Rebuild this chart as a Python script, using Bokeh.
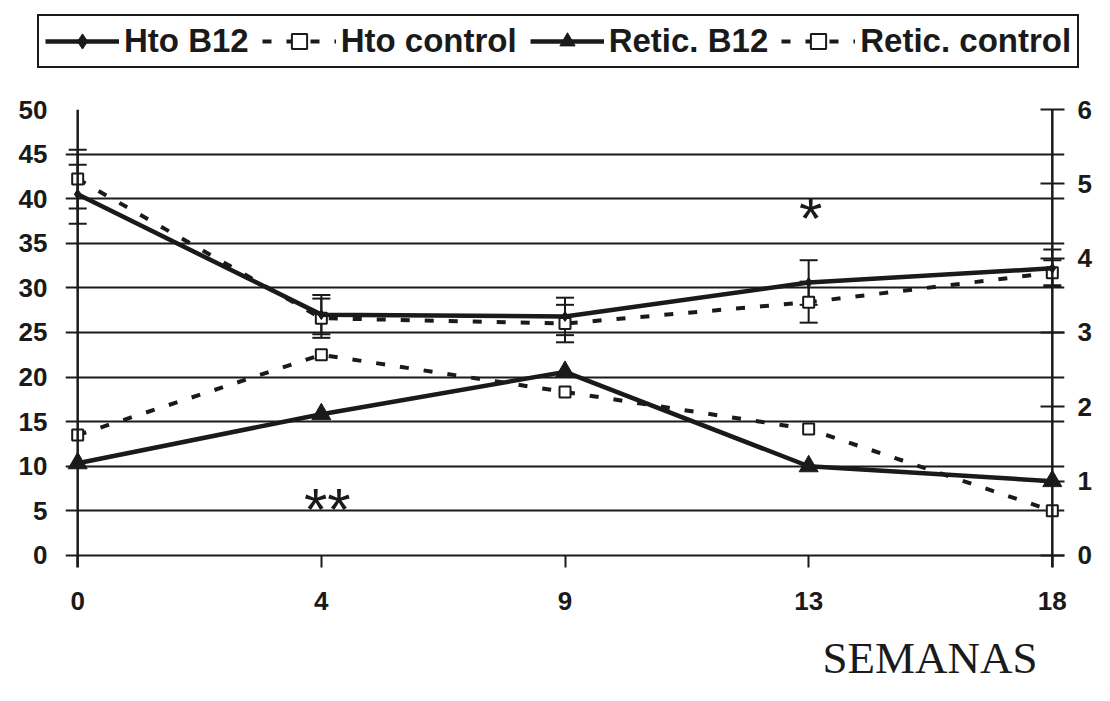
from bokeh.plotting import figure
from bokeh.models import (Range1d, LinearAxis, FixedTicker, Span, Whisker, ColumnDataSource,
                          Legend, LegendItem, Title, TeeHead)
from bokeh.core.properties import value
from bokeh.embed import file_html
from bokeh.resources import INLINE

# ---- data ----
weeks = ["0", "4", "9", "13", "18"]
hto_b12 = [40.5, 27.0, 26.8, 30.6, 32.2]
hto_b12_err = [3.3, 2.2, 2.1, 2.5, 2.1]
hto_control = [42.2, 26.6, 26.0, 28.4, 31.7]
hto_control_err = [3.3, 2.2, 2.1, 2.3, 1.4]
retic_b12 = [1.24, 1.90, 2.47, 1.20, 1.00]
retic_control = [1.62, 2.70, 2.20, 1.70, 0.60]
left_ticks = [0, 5, 10, 15, 20, 25, 30, 35, 40, 45, 50]
right_ticks = [0, 1, 2, 3, 4, 5, 6]
sig_weeks = ["4", "13"]
sig_marks = ["**", "*"]
sig_y = [5.2, 37.8]
sig_dx = [6, 2]

INK = "#1a1a1a"
FONT = "Liberation Sans"
W = 1094

xs = list(range(len(weeks)))
pad = 0.05
left_max = left_ticks[-1]
right_max = right_ticks[-1]
ybot = -1.35

p = figure(width=W, height=631, output_backend="svg", toolbar_location=None,
           x_range=Range1d(-pad, xs[-1] + pad), y_range=Range1d(ybot, left_max),
           min_border_left=65, min_border_right=29, min_border_top=39, min_border_bottom=134,
           background_fill_color="white", border_fill_color="white", outline_line_color=None)
p.extra_y_ranges = {"retic": Range1d(ybot * right_max / left_max, right_max)}

# grid
p.xgrid.visible = False
p.ygrid.ticker = FixedTicker(ticks=left_ticks)
p.ygrid.grid_line_color = INK
p.ygrid.grid_line_width = 2

# left axis
ly = p.yaxis[0]
ly.ticker = FixedTicker(ticks=left_ticks)
ly.axis_line_color = None
ly.major_tick_line_color = None
ly.minor_tick_line_color = None
ly.major_label_standoff = 12
ly.major_label_text_font = FONT
ly.major_label_text_font_style = "bold"
ly.major_label_text_font_size = "26px"
ly.major_label_text_color = INK

# bottom axis
bx = p.xaxis[0]
bx.ticker = FixedTicker(ticks=xs)
bx.major_label_overrides = {i: w for i, w in zip(xs, weeks)}
bx.axis_line_color = None
bx.major_tick_in = 12
bx.major_tick_out = 0
bx.major_tick_line_width = 2
bx.major_tick_line_color = INK
bx.minor_tick_line_color = None
bx.major_label_standoff = 24
bx.major_label_text_font = FONT
bx.major_label_text_font_style = "bold"
bx.major_label_text_font_size = "26px"
bx.major_label_text_color = INK

# right axis
ry = LinearAxis(y_range_name="retic", ticker=FixedTicker(ticks=right_ticks))
ry.axis_line_color = None
ry.major_tick_in = 24
ry.major_tick_out = 0
ry.major_tick_line_width = 2
ry.major_tick_line_color = INK
ry.minor_tick_line_color = None
ry.major_label_standoff = 13
ry.major_label_text_font = FONT
ry.major_label_text_font_style = "bold"
ry.major_label_text_font_size = "26px"
ry.major_label_text_color = INK
p.add_layout(ry, "right")

# vertical axis lines at first and last week
for loc in (xs[0], xs[-1]):
    p.add_layout(Span(location=loc, dimension="height", line_color=INK, line_width=2.5))

src = ColumnDataSource(dict(
    x=xs, hb=hto_b12, hc=hto_control, rb=retic_b12, rc=retic_control,
    hb_up=[v + e for v, e in zip(hto_b12, hto_b12_err)],
    hb_lo=[v - e for v, e in zip(hto_b12, hto_b12_err)],
    hc_up=[v + e for v, e in zip(hto_control, hto_control_err)],
    hc_lo=[v - e for v, e in zip(hto_control, hto_control_err)],
))

for up, lo in (("hb_up", "hb_lo"), ("hc_up", "hc_lo")):
    p.add_layout(Whisker(source=src, base="x", upper=up, lower=lo, line_color=INK, line_width=2,
                         upper_head=TeeHead(size=18, line_color=INK, line_width=2),
                         lower_head=TeeHead(size=18, line_color=INK, line_width=2)))

dash = "9 15"
styles = {
    "hc": dict(line=dict(line_color=INK, line_width=4, line_dash=dash),
               mark=dict(marker="square", size=11, fill_color="white", line_color=INK, line_width=2)),
    "rc": dict(line=dict(line_color=INK, line_width=4, line_dash=dash),
               mark=dict(marker="square", size=11, fill_color="white", line_color=INK, line_width=2)),
    "hb": dict(line=dict(line_color=INK, line_width=4.5),
               mark=dict(marker="diamond", size=10, fill_color=INK, line_color=INK)),
    "rb": dict(line=dict(line_color=INK, line_width=4.5),
               mark=dict(marker="triangle", size=19, fill_color=INK, line_color=INK)),
}
for key, rng in (("hc", "default"), ("rc", "retic"), ("hb", "default"), ("rb", "retic")):
    p.line("x", key, source=src, y_range_name=rng, **styles[key]["line"])
    p.scatter("x", key, source=src, y_range_name=rng, **styles[key]["mark"])

# significance marks
sig_src = ColumnDataSource(dict(x=[weeks.index(w) for w in sig_weeks], y=sig_y, t=sig_marks, dx=sig_dx))
p.text(x="x", y="y", text="t", x_offset="dx", source=sig_src,
       text_font=value(FONT), text_font_size="60px", text_align="center",
       text_baseline="middle", text_color=INK)

p.add_layout(Title(text="SEMANAS", align="right", offset=27, standoff=37,
                   text_font="Liberation Serif", text_font_size="45px",
                   text_font_style="normal", text_color=INK), "below")

# ---- legend strip on top (separate root, so frames are not aligned) ----
top = figure(width=W, height=70, output_backend="svg", toolbar_location=None,
             x_range=Range1d(0, 1), y_range=Range1d(0, 1), x_axis_type=None, y_axis_type=None,
             min_border=0, outline_line_color=None, background_fill_color="white",
             border_fill_color="white")
top.grid.visible = False
items = []
for key, label in (("hb", "Hto B12"), ("hc", "Hto control"), ("rb", "Retic. B12"), ("rc", "Retic. control")):
    # legend swatches only: a single point placed outside the visible range
    r1 = top.line([-5, -4], [-5, -5], **styles[key]["line"])
    r2 = top.scatter([-5], [-5], **styles[key]["mark"])
    items.append(LegendItem(label=label, renderers=[r1, r2]))
legend = Legend(items=items, orientation="horizontal", location=(37, 2),
                label_text_font=FONT, label_text_font_style="bold", label_text_font_size="33px",
                label_text_color=INK, glyph_width=74, glyph_height=38, label_standoff=5, spacing=13,
                padding=6, margin=0, border_line_color=INK, border_line_width=2.5,
                border_line_alpha=1.0, background_fill_color="white", background_fill_alpha=1.0)
top.add_layout(legend, "center")

open("out.html", "w").write(file_html([top, p], INLINE))
